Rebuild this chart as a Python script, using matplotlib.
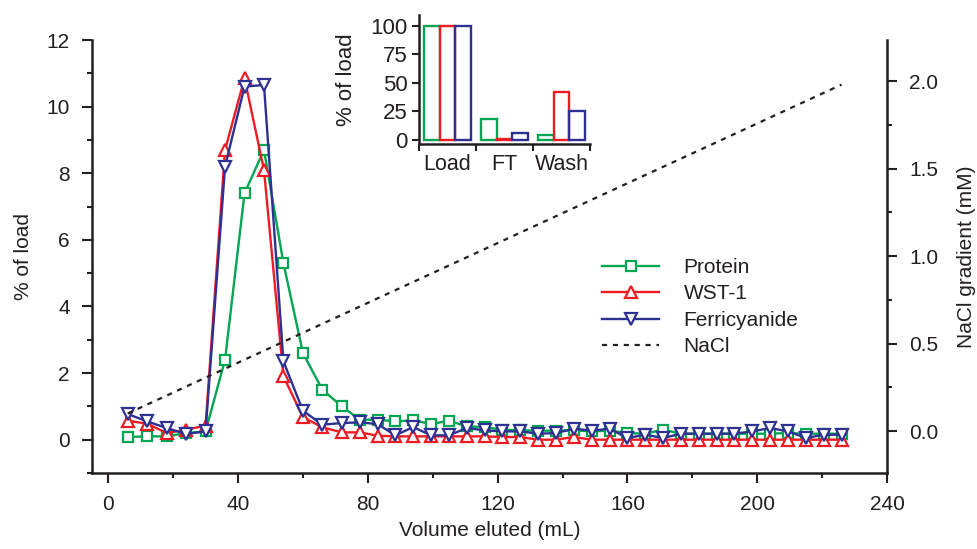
import matplotlib
matplotlib.use("Agg")
import matplotlib.pyplot as plt
from matplotlib.ticker import MultipleLocator, FixedLocator

plt.rcParams['font.family'] = ['Liberation Sans', 'DejaVu Sans']
plt.rcParams['font.size'] = 15
TEXT = '#231f20'
plt.rcParams['text.color'] = TEXT
plt.rcParams['axes.labelcolor'] = TEXT
plt.rcParams['xtick.color'] = TEXT
plt.rcParams['ytick.color'] = TEXT

GREEN = '#00a651'
RED = '#ed1c24'
BLUE = '#2e3192'

# fraction volumes (mL)
volume = [6, 12, 18, 24, 30, 36, 42, 48, 54, 60, 66, 72, 77.5, 83, 88.5, 94, 99.5, 105,
          110.5, 116, 121.5, 127, 132.5, 138, 143.5, 149, 154.5, 160, 165.5, 171, 176.5,
          182, 187.5, 193, 198.5, 204, 209.5, 215, 220.5, 226]

protein = [0.08, 0.1, 0.1, 0.2, 0.25, 2.4, 7.4, 8.7, 5.3, 2.6, 1.5, 1.0, 0.6, 0.6, 0.55,
           0.58, 0.47, 0.57, 0.4, 0.38, 0.3, 0.28, 0.27, 0.27, 0.28, 0.25, 0.27, 0.2,
           0.18, 0.3, 0.18, 0.18, 0.18, 0.18, 0.18, 0.18, 0.2, 0.18, 0.18, 0.18]

wst1 = [0.57, 0.48, 0.2, 0.3, 0.42, 8.7, 10.85, 8.1, 1.9, 0.68, 0.37, 0.22, 0.22, 0.12,
        0.1, 0.1, 0.1, 0.1, 0.1, 0.1, 0.08, 0.08, 0.0, 0.0, 0.08, 0.0, 0.0, 0.0, 0.0,
        0.0, 0.0, 0.0, 0.0, 0.0, 0.0, 0.0, 0.0, 0.0, 0.0, 0.0]

ferricyanide = [0.77, 0.55, 0.35, 0.17, 0.25, 8.2, 10.6, 10.65, 2.35, 0.87, 0.45, 0.5,
                0.52, 0.47, 0.13, 0.38, 0.13, 0.13, 0.35, 0.28, 0.25, 0.25, 0.18, 0.2,
                0.33, 0.27, 0.33, 0.05, 0.15, 0.05, 0.18, 0.18, 0.18, 0.18, 0.25, 0.35,
                0.25, 0.05, 0.15, 0.15]

nacl_volume = [6, 226]
nacl_conc = [0.1, 1.98]

# inset: Load / FT / Wash
inset_groups = ['Load', 'FT', 'Wash']
inset_protein = [100, 18, 4]
inset_wst1 = [100, 1, 42]
inset_ferri = [100, 6, 25]

W, H = 978, 549
fig = plt.figure(figsize=(W / 100, H / 100), dpi=100)

ax = fig.add_axes([92 / W, 1 - 473 / H, 795 / W, 433 / H])
ax2 = ax.twinx()

l1, = ax.plot(volume, protein, '-s', color=GREEN, lw=1.7, ms=7, mew=1.6,
              mfc='white', label='Protein')
l2, = ax.plot(volume, wst1, '-^', color=RED, lw=1.7, ms=9, mew=1.6,
              mfc='white', label='WST-1')
l3, = ax.plot(volume, ferricyanide, '-v', color=BLUE, lw=1.7, ms=9, mew=1.6,
              mfc='white', label='Ferricyanide')
l4, = ax2.plot(nacl_volume, nacl_conc, color='#231f20', lw=1.6,
               linestyle=(0, (2.3, 2.6)), label='NaCl')

ax.set_xlim(-5, 240)
ax.set_ylim(-1, 12)
ax2.set_ylim(-0.24, 2.235)

ax.xaxis.set_major_locator(MultipleLocator(40))
ax.xaxis.set_minor_locator(MultipleLocator(20))
ax.yaxis.set_major_locator(MultipleLocator(2))
ax.yaxis.set_minor_locator(MultipleLocator(1))
ax2.yaxis.set_major_locator(FixedLocator([0, 0.5, 1.0, 1.5, 2.0]))
ax2.yaxis.set_minor_locator(FixedLocator([0.25, 0.75, 1.25, 1.75]))
ax2.yaxis.set_major_formatter(matplotlib.ticker.FormatStrFormatter('%.1f'))

for a in (ax, ax2):
    a.spines['top'].set_visible(False)
    for s in a.spines.values():
        s.set_linewidth(1.8)
        s.set_color(TEXT)
    a.tick_params(which='major', direction='out', length=7, width=1.5, pad=9)
    a.tick_params(which='minor', direction='out', length=3.5, width=1.5)
ax.spines['right'].set_visible(False)
ax2.spines['left'].set_visible(False)
ax2.spines['bottom'].set_visible(False)

ax.set_xlabel('Volume eluted (mL)', labelpad=5)
ax.set_ylabel('% of load', labelpad=10)
ax2.set_ylabel('NaCl gradient (mM)', labelpad=13)

leg = ax2.legend(handles=[l1, l2, l3, l4], loc='upper left',
                 bbox_to_anchor=(0.642, 0.497), frameon=False, borderpad=0,
                 borderaxespad=0, handlelength=2.7, handletextpad=1.2,
                 labelspacing=0.36, fontsize=15)

# inset bar chart
ins = fig.add_axes([419 / W, 1 - 144 / H, 171 / W, 129 / H])
bw = 0.277
centers = [i + 0.5 for i in range(len(inset_groups))]
for j, (vals, col) in enumerate([(inset_protein, GREEN), (inset_wst1, RED),
                                  (inset_ferri, BLUE)]):
    ins.bar([c + (j - 1) * bw for c in centers], vals, width=bw, fill=False,
            edgecolor=col, linewidth=1.7)
ins.set_xlim(0, 3)
ins.set_ylim(-3.5, 109.5)
ins.yaxis.set_major_locator(FixedLocator([0, 25, 50, 75, 100]))
ins.xaxis.set_major_locator(FixedLocator([0, 1, 2, 3]))
ins.xaxis.set_major_formatter(matplotlib.ticker.NullFormatter())
ins.xaxis.set_minor_locator(FixedLocator(centers))
ins.xaxis.set_minor_formatter(matplotlib.ticker.FixedFormatter(inset_groups))
ins.tick_params(axis='x', which='minor', length=0, pad=7, labelsize=15.5)
ins.tick_params(which='major', direction='out', length=5, width=1.5, pad=3)
ins.tick_params(axis='y', labelsize=16)
ins.spines['top'].set_visible(False)
ins.spines['right'].set_visible(False)
for s in ('left', 'bottom'):
    ins.spines[s].set_linewidth(1.8)
    ins.spines[s].set_color(TEXT)
ins.patch.set_alpha(0)
ins.set_ylabel('% of load', labelpad=10, fontsize=16)

fig.savefig('out.png', dpi=100)
